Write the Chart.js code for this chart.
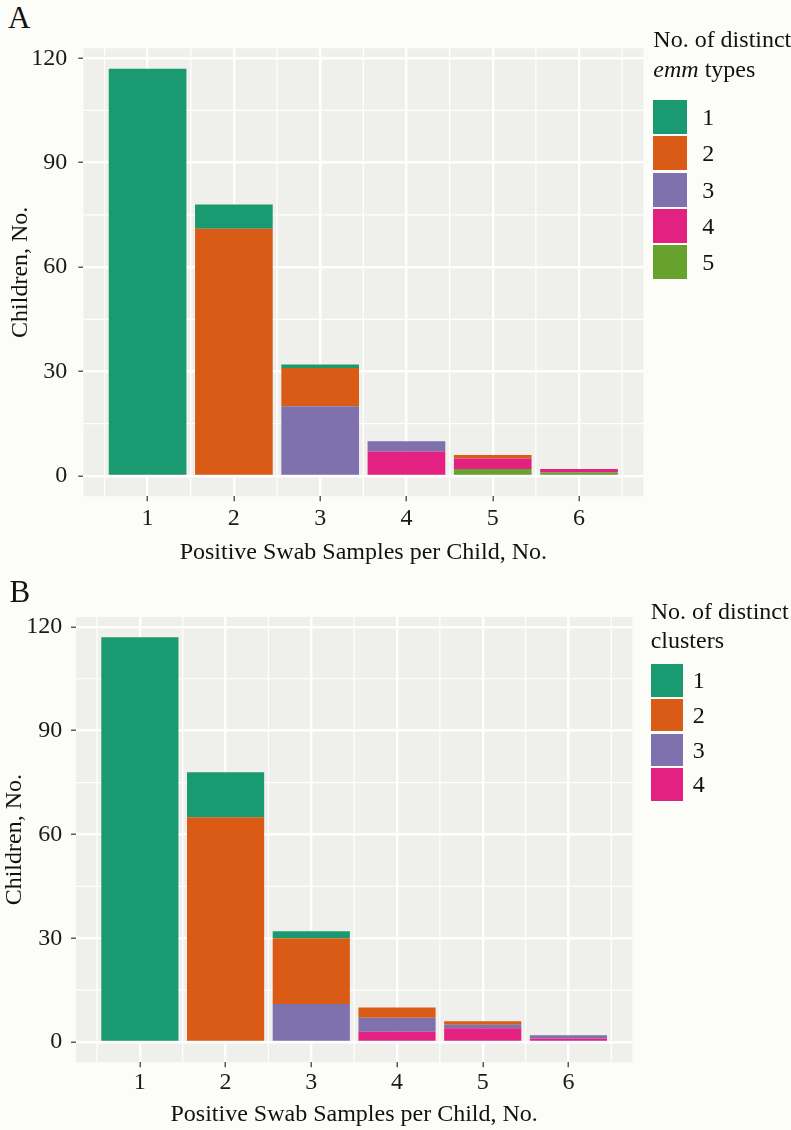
<!DOCTYPE html>
<html>
<head>
<meta charset="utf-8">
<title>Positive swab samples per child</title>
<script src="https://cdn.jsdelivr.net/npm/chart.js@4.4.0/dist/chart.umd.min.js"></script>
<style>
  body {
    margin: 0;
    width: 791px;
    height: 1130px;
    position: relative;
    overflow: hidden;
    background: #fcfcf8;
    color: #111111;
    font-family: "Liberation Serif", serif;
  }
  .panel-letter {
    position: absolute;
    font-size: 31px;
    line-height: 31px;
  }
  .chart-box {
    position: absolute;
    left: 0;
  }
  .legend {
    position: absolute;
    font-size: 24px;
  }
  .legend-title {
    white-space: nowrap;
  }
  .legend-item {
    position: absolute;
    left: 0;
  }
  .legend-swatch {
    position: absolute;
    left: 0;
    top: 0;
  }
  .legend-label {
    position: absolute;
    top: 0;
    white-space: nowrap;
  }
</style>
</head>
<body>
<div class="panel-letter" style="left: 8px; top: 2.3px;">A</div>
<div class="chart-box" id="boxA"><canvas id="chartA"></canvas></div>
<div class="legend" id="legendA"></div>

<div class="panel-letter" style="left: 9.5px; top: 575.7px;">B</div>
<div class="chart-box" id="boxB"><canvas id="chartB"></canvas></div>
<div class="legend" id="legendB"></div>

<script>
// x categories and axis breaks
const swabCounts = [1, 2, 3, 4, 5, 6];
const yTickValues = [0, 30, 60, 90, 120];
const yMinorValues = [15, 45, 75, 105];
const xMinorValues = [0.5, 1.5, 2.5, 3.5, 4.5, 5.5, 6.5];

// Panel A: number of distinct emm types
const emmLabels = ["1", "2", "3", "4", "5"];
const emmType1 = [117, 7, 1, 0, 0, 0];
const emmType2 = [0, 71, 11, 0, 1, 0];
const emmType3 = [0, 0, 20, 3, 0, 0];
const emmType4 = [0, 0, 0, 7, 3, 1];
const emmType5 = [0, 0, 0, 0, 2, 1];

// Panel B: number of distinct clusters
const clusterLabels = ["1", "2", "3", "4"];
const cluster1 = [117, 13, 2, 0, 0, 0];
const cluster2 = [0, 65, 19, 3, 1, 0];
const cluster3 = [0, 0, 11, 4, 1, 1];
const cluster4 = [0, 0, 0, 3, 4, 1];

const fillColors = ["#1a9a71", "#d95b16", "#7f71ad", "#e32180", "#67a22e"];
const panelColor = "#efefeb";
const barWidth = 0.9;
const textSize = 24;

Chart.defaults.font.family = "'Liberation Serif', serif";
Chart.defaults.color = "#1a1a1a";

// Plugin to paint the grey panel and the thin minor grid lines under everything
const panelBackground = {
  id: "panelBackground",
  beforeDraw(chart) {
    const { ctx, chartArea, scales } = chart;
    const { left, top, right, bottom } = chartArea;
    ctx.save();
    ctx.fillStyle = panelColor;
    ctx.fillRect(left, top, right - left, bottom - top);
    ctx.strokeStyle = "#ffffff";
    ctx.lineWidth = 1.2;
    ctx.beginPath();
    yMinorValues.forEach((v) => {
      const py = scales.y.getPixelForValue(v);
      ctx.moveTo(left, py);
      ctx.lineTo(right, py);
    });
    xMinorValues.forEach((v) => {
      const px = scales.x.getPixelForValue(v);
      ctx.moveTo(px, top);
      ctx.lineTo(px, bottom);
    });
    ctx.stroke();
    ctx.restore();
  },
};

// Function to build one stacked bar panel
function createPanel(canvasId, boxId, labels, seriesList, layout) {
  const box = document.getElementById(boxId);
  box.style.top = layout.top + "px";
  const canvas = document.getElementById(canvasId);
  canvas.width = 791;
  canvas.height = layout.height;

  // ggplot style expansion: 5% on each side of the data range
  const totals = swabCounts.map((_, i) =>
    seriesList.reduce((sum, values) => sum + values[i], 0)
  );
  const yMax = Math.max(...totals);
  const xLow = swabCounts[0] - barWidth / 2;
  const xHigh = swabCounts[swabCounts.length - 1] + barWidth / 2;
  const xPad = (xHigh - xLow) * 0.05;

  // highest level sits at the bottom of each stack, like ggplot
  const datasets = seriesList
    .map((values, k) => ({
      label: labels[k],
      data: values.map((v, i) => ({ x: swabCounts[i], y: v })),
      backgroundColor: fillColors[k],
      borderWidth: 0,
      barPercentage: barWidth,
      categoryPercentage: 1,
    }))
    .reverse();

  return new Chart(canvas, {
    type: "bar",
    data: { datasets: datasets },
    plugins: [panelBackground],
    options: {
      responsive: false,
      animation: false,
      layout: {
        padding: { top: layout.padTop, right: layout.padRight, bottom: 0, left: 0 },
      },
      plugins: {
        legend: { display: false },
        tooltip: { enabled: false },
      },
      scales: {
        x: {
          type: "linear",
          stacked: true,
          offset: false,
          min: xLow - xPad,
          max: xHigh + xPad,
          afterBuildTicks: (axis) => {
            axis.ticks = swabCounts.map((v) => ({ value: v }));
          },
          afterFit: (axis) => {
            axis.height = layout.xAxisHeight;
          },
          border: { display: false },
          grid: {
            offset: false,
            color: "#ffffff",
            lineWidth: 2.4,
            tickColor: "#333333",
            tickLength: 5,
            tickWidth: 1.2,
          },
          ticks: {
            font: { size: textSize },
            padding: layout.xTickPad,
            maxRotation: 0,
            autoSkip: false,
          },
          title: {
            display: true,
            text: "Positive Swab Samples per Child, No.",
            color: "#111111",
            font: { size: textSize },
            padding: { top: 0, bottom: layout.xTitlePad },
          },
        },
        y: {
          type: "linear",
          stacked: true,
          min: -0.05 * yMax,
          max: 1.05 * yMax,
          afterBuildTicks: (axis) => {
            axis.ticks = yTickValues.map((v) => ({ value: v }));
          },
          afterFit: (axis) => {
            axis.width = layout.yAxisWidth;
          },
          border: { display: false },
          grid: {
            color: "#ffffff",
            lineWidth: 2.4,
            tickColor: "#333333",
            tickLength: 5,
            tickWidth: 1.2,
          },
          ticks: {
            font: { size: textSize },
            padding: layout.yTickPad,
          },
          title: {
            display: true,
            text: "Children, No.",
            color: "#111111",
            font: { size: textSize },
            padding: { top: layout.yTitlePad, bottom: 0 },
          },
        },
      },
    },
  });
}

// Function to draw the legend next to a panel
function buildLegend(legendId, titleLines, labels, pos) {
  const legend = document.getElementById(legendId);
  legend.style.left = pos.left + "px";
  legend.style.top = pos.titleTop + "px";

  const title = document.createElement("div");
  title.className = "legend-title";
  title.style.lineHeight = pos.lineHeight + "px";
  title.innerHTML = titleLines.join("<br>");
  legend.appendChild(title);

  labels.forEach((label, k) => {
    const item = document.createElement("div");
    item.className = "legend-item";
    item.style.top = pos.boxTop - pos.titleTop + k * pos.pitch + "px";

    const swatch = document.createElement("div");
    swatch.className = "legend-swatch";
    swatch.style.width = pos.box + "px";
    swatch.style.height = pos.box + "px";
    swatch.style.background = fillColors[k];

    const text = document.createElement("span");
    text.className = "legend-label";
    text.style.left = pos.labelLeft + "px";
    text.style.lineHeight = pos.box + "px";
    text.textContent = label;

    item.appendChild(swatch);
    item.appendChild(text);
    legend.appendChild(item);
  });
}

createPanel("chartA", "boxA", emmLabels, [emmType1, emmType2, emmType3, emmType4, emmType5], {
  top: 0,
  height: 575,
  padTop: 48.3,
  padRight: 147.7,
  yAxisWidth: 83.3,
  xAxisHeight: 78.7,
  xTickPad: 3.2,
  xTitlePad: 7.7,
  yTickPad: 11,
  yTitlePad: 6,
});

createPanel("chartB", "boxB", clusterLabels, [cluster1, cluster2, cluster3, cluster4], {
  top: 575,
  height: 555,
  padTop: 42,
  padRight: 158.7,
  yAxisWidth: 76,
  xAxisHeight: 67.7,
  xTickPad: 1,
  xTitlePad: 0.7,
  yTickPad: 8.7,
  yTitlePad: 0,
});

buildLegend("legendA", ["No. of distinct", "<i>emm</i> types"], emmLabels, {
  left: 653.3,
  titleTop: 24.4,
  lineHeight: 30,
  boxTop: 100,
  box: 34,
  pitch: 36.3,
  labelLeft: 49,
});

buildLegend("legendB", ["No. of distinct", "clusters"], clusterLabels, {
  left: 650.7,
  titleTop: 596.7,
  lineHeight: 29,
  boxTop: 664.3,
  box: 32.5,
  pitch: 34.7,
  labelLeft: 42,
});
</script>
</body>
</html>
